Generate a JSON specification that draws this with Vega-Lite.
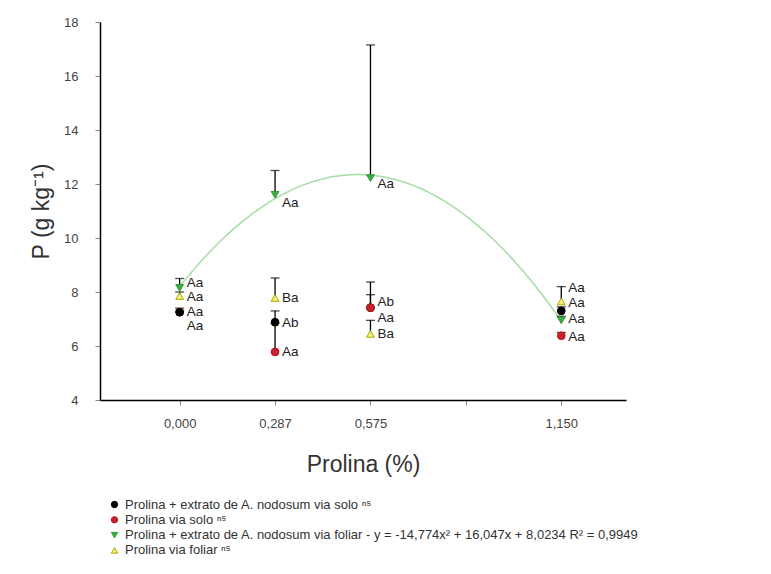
{
  "$schema": "https://vega.github.io/schema/vega-lite/v6.json",
  "width": 526,
  "height": 378,
  "autosize": {"type": "none"},
  "padding": {"left": 100, "top": 22, "right": 145, "bottom": 174},
  "config": {
    "view": {"stroke": null},
    "font": "Liberation Sans",
    "axis": {"grid": false, "domainColor": "#000", "domainWidth": 1.5, "tickColor": "#888", "tickSize": 5, "labelFont": "Liberation Sans", "labelFontSize": 13, "labelColor": "#444", "titleFont": "Liberation Sans", "titleFontSize": 23, "titleFontWeight": "normal", "titleColor": "#333"}
  },
  "datasets": {
    "pts": [
      {"series": "s2", "x": 0, "y": 7.25, "ey": 7.3, "label": "Aa", "ly": 6.74},
      {"series": "s1", "x": 0, "y": 7.25, "ey": 7.4, "label": "Aa", "ly": 7.26},
      {"series": "s1", "x": 0.2875, "y": 6.88, "ey": 7.3, "label": "Ab", "ly": 6.85},
      {"series": "s1", "x": 0.575, "y": 7.42, "ey": 7.9, "label": "Aa", "ly": 7.04},
      {"series": "s1", "x": 1.15, "y": 7.3, "ey": 7.45, "label": "Aa", "ly": 7.6},
      {"series": "s2", "x": 0.2875, "y": 5.78, "ey": 6.85, "label": "Aa", "ly": 5.78},
      {"series": "s2", "x": 0.575, "y": 7.42, "ey": 8.37, "label": "Ab", "ly": 7.63},
      {"series": "s2", "x": 1.15, "y": 6.38, "ey": 6.5, "label": "Aa", "ly": 6.35},
      {"series": "s3", "x": 0, "y": 8.15, "ey": 8.5, "label": "Aa", "ly": 8.33},
      {"series": "s3", "x": 0.2875, "y": 11.6, "ey": 12.5, "label": "Aa", "ly": 11.3},
      {"series": "s3", "x": 0.575, "y": 12.22, "ey": 17.15, "label": "Aa", "ly": 12.0},
      {"series": "s3", "x": 1.15, "y": 6.95, "ey": 7.1, "label": "Aa", "ly": 7.0},
      {"series": "s4", "x": 0, "y": 7.85, "ey": 8.0, "label": "Aa", "ly": 7.81},
      {"series": "s4", "x": 0.2875, "y": 7.78, "ey": 8.52, "label": "Ba", "ly": 7.78},
      {"series": "s4", "x": 0.575, "y": 6.45, "ey": 6.95, "label": "Ba", "ly": 6.44},
      {"series": "s4", "x": 1.15, "y": 7.65, "ey": 8.2, "label": "Aa", "ly": 8.15}
    ]
  },
  "data": {"name": "pts"},
  "layer": [
    {
      "transform": [
        {"filter": "datum.series === 's3'"},
        {"regression": "y", "on": "x", "method": "poly", "order": 2, "extent": [0, 1.15]}
      ],
      "mark": {"type": "line", "color": "#a6dca6", "strokeWidth": 1.5, "interpolate": "monotone"},
      "encoding": {
        "x": {"field": "x", "type": "quantitative"},
        "y": {"field": "y", "type": "quantitative"}
      }
    },
    {
      "mark": {"type": "rule", "color": "#000", "strokeWidth": 1.3},
      "encoding": {
        "x": {"field": "x", "type": "quantitative"},
        "y": {"field": "y", "type": "quantitative"},
        "y2": {"field": "ey"}
      }
    },
    {
      "mark": {"type": "tick", "color": "#000", "orient": "horizontal", "size": 9, "thickness": 1.3},
      "encoding": {
        "x": {"field": "x", "type": "quantitative"},
        "y": {"field": "ey", "type": "quantitative"}
      }
    },
    {
      "mark": {"type": "point", "filled": false, "strokeWidth": 1, "opacity": 1},
      "encoding": {
        "x": {
          "field": "x", "type": "quantitative",
          "scale": {"domain": [-0.24, 1.345], "nice": false, "zero": false},
          "axis": {"title": "Prolina (%)", "values": [0, 0.2875, 0.575, 0.8625, 1.15], "labelPadding": 12, "titlePadding": 23,
            "labelExpr": "datum.value < 0.1 ? '0,000' : datum.value < 0.3 ? '0,287' : datum.value < 0.6 ? '0,575' : datum.value < 1 ? '' : '1,150'"}
        },
        "y": {
          "field": "y", "type": "quantitative",
          "scale": {"domain": [4, 18], "nice": false, "zero": false},
          "axis": {"title": "P (g kg⁻¹)", "values": [4, 6, 8, 10, 12, 14, 16, 18], "labelPadding": 17, "titlePadding": 10}
        },
        "shape": {
          "field": "series", "type": "nominal",
          "scale": {"domain": ["s1", "s2", "s3", "s4"], "range": ["circle", "circle", "triangle-down", "triangle-up"]},
          "legend": {
            "title": null, "orient": "none", "legendX": 8, "legendY": 476, "direction": "vertical",
            "labelFont": "Liberation Sans", "labelFontSize": 13, "labelColor": "#333", "symbolSize": 40, "labelOffset": 4, "rowPadding": 1.3, "symbolStrokeWidth": 1,
            "labelLimit": 700,
            "labelExpr": "datum.value === 's1' ? 'Prolina + extrato de A. nodosum via solo ⁿˢ' : datum.value === 's2' ? 'Prolina via solo ⁿˢ' : datum.value === 's3' ? 'Prolina + extrato de A. nodosum via foliar - y = -14,774x² + 16,047x + 8,0234 R² = 0,9949' : 'Prolina via foliar ⁿˢ'"
          }
        },
        "fill": {
          "field": "series", "type": "nominal",
          "scale": {"domain": ["s1", "s2", "s3", "s4"], "range": ["#000000", "#c8202c", "#3cae46", "#f2f27a"]},
          "legend": {
            "title": null, "orient": "none", "legendX": 8, "legendY": 476, "direction": "vertical",
            "labelFont": "Liberation Sans", "labelFontSize": 13, "labelColor": "#333", "symbolSize": 40, "labelOffset": 4, "rowPadding": 1.3, "symbolStrokeWidth": 1,
            "labelLimit": 700,
            "labelExpr": "datum.value === 's1' ? 'Prolina + extrato de A. nodosum via solo ⁿˢ' : datum.value === 's2' ? 'Prolina via solo ⁿˢ' : datum.value === 's3' ? 'Prolina + extrato de A. nodosum via foliar - y = -14,774x² + 16,047x + 8,0234 R² = 0,9949' : 'Prolina via foliar ⁿˢ'"
          }
        },
        "stroke": {
          "field": "series", "type": "nominal",
          "scale": {"domain": ["s1", "s2", "s3", "s4"], "range": ["#000000", "#b01820", "#2e9a3a", "#a8a800"]},
          "legend": {
            "title": null, "orient": "none", "legendX": 8, "legendY": 476, "direction": "vertical",
            "labelFont": "Liberation Sans", "labelFontSize": 13, "labelColor": "#333", "symbolSize": 40, "labelOffset": 4, "rowPadding": 1.3, "symbolStrokeWidth": 1,
            "labelLimit": 700,
            "labelExpr": "datum.value === 's1' ? 'Prolina + extrato de A. nodosum via solo ⁿˢ' : datum.value === 's2' ? 'Prolina via solo ⁿˢ' : datum.value === 's3' ? 'Prolina + extrato de A. nodosum via foliar - y = -14,774x² + 16,047x + 8,0234 R² = 0,9949' : 'Prolina via foliar ⁿˢ'"
          }
        },
        "size": {"value": 60}
      }
    },
    {
      "mark": {"type": "text", "align": "left", "baseline": "middle", "dx": 7, "fontSize": 13.5, "font": "Liberation Sans", "color": "#222"},
      "encoding": {
        "x": {"field": "x", "type": "quantitative"},
        "y": {"field": "ly", "type": "quantitative"},
        "text": {"field": "label"}
      }
    }
  ]
}
